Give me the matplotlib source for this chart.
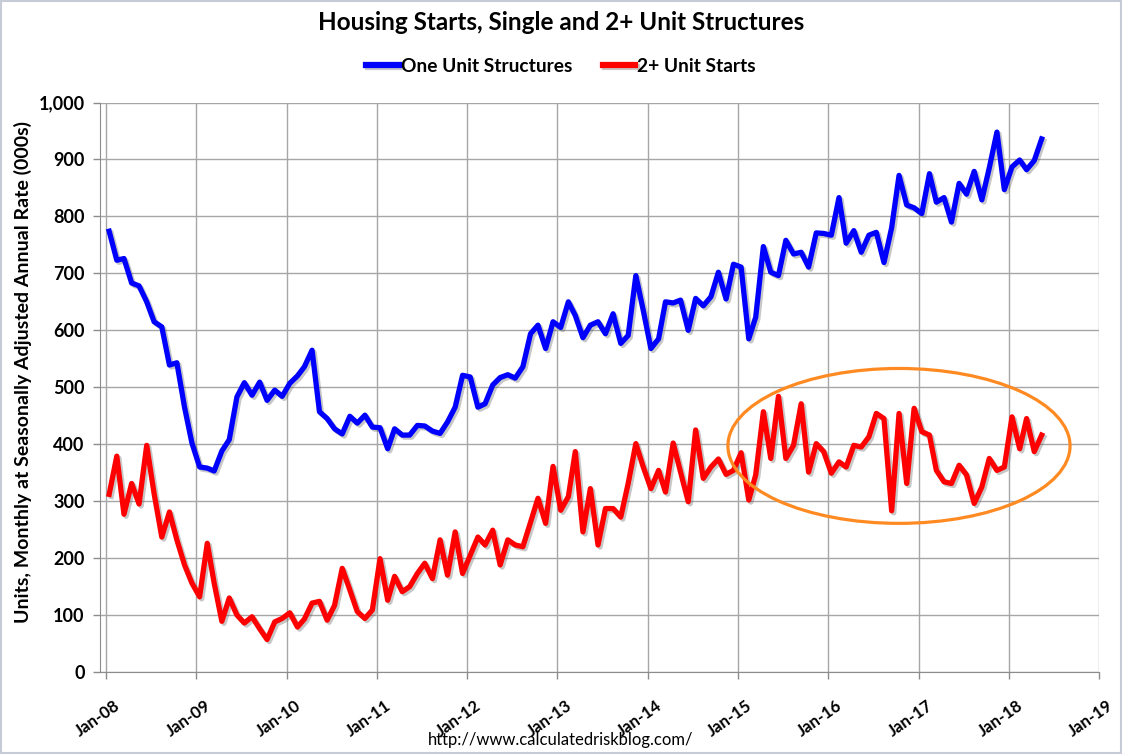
import numpy as np
import matplotlib
matplotlib.use("Agg")
import matplotlib.pyplot as plt
import matplotlib.dates as mdates
import matplotlib.patheffects as pe
import matplotlib.transforms as mtransforms
from matplotlib.patches import Ellipse, Rectangle
from matplotlib.ticker import FuncFormatter, MultipleLocator

plt.rcParams['font.family'] = ['Lato', 'DejaVu Sans']

title = "Housing Starts, Single and 2+ Unit Structures"
ylabel = "Units, Monthly at Seasonally Adjusted Annual Rate (000s)"
source = "http://www.calculatedriskblog.com/"
series_names = ["One Unit Structures", "2+ Unit Starts"]

start_month = "2008-01"
one_unit = [774, 723, 726, 683, 678, 650, 615, 606, 539, 543, 465, 402,
            360, 358, 353, 388, 408, 483, 508, 486, 509, 477, 495, 484,
            507, 520, 536, 565, 457, 445, 427, 418, 449, 437, 451, 430,
            429, 392, 427, 416, 416, 433, 432, 423, 419, 439, 465, 521,
            518, 465, 471, 504, 517, 522, 516, 536, 594, 609, 568, 615,
            605, 650, 626, 587, 609, 615, 594, 629, 577, 591, 696, 635,
            568, 585, 650, 648, 653, 600, 656, 643, 659, 702, 655, 716,
            711, 585, 623, 747, 702, 696, 758, 734, 737, 711, 771, 770,
            767, 833, 753, 775, 737, 767, 772, 719, 780, 872, 820, 815,
            805, 875, 825, 833, 790, 858, 839, 879, 829, 885, 948, 847,
            887, 899, 882, 898, 936]
two_plus = [312, 379, 277, 331, 295, 398, 313, 237, 281, 232, 188, 156,
            132, 226, 156, 89, 130, 100, 86, 97, 76, 57, 88, 94,
            104, 79, 93, 121, 124, 91, 117, 182, 144, 106, 94, 109,
            199, 126, 168, 141, 150, 173, 191, 164, 232, 170, 246, 173,
            205, 237, 223, 249, 188, 232, 223, 220, 263, 305, 261, 361,
            284, 308, 387, 246, 322, 223, 287, 287, 272, 331, 401, 360,
            322, 354, 316, 402, 351, 299, 425, 340, 360, 374, 347, 354,
            385, 302, 346, 457, 375, 484, 375, 398, 471, 351, 401, 387,
            349, 369, 360, 398, 395, 413, 454, 445, 283, 454, 331, 463,
            422, 416, 354, 334, 331, 363, 346, 296, 325, 375, 354, 360,
            448, 392, 445, 387, 416]

dates = (np.arange(np.datetime64(start_month, 'M'),
                   np.datetime64(start_month, 'M') + len(one_unit))
         .astype('datetime64[D]') + np.timedelta64(13, 'D'))

fig = plt.figure(figsize=(11.22, 7.54), dpi=100)
ax = fig.add_axes([100 / 1122, 1 - 672 / 754, 999 / 1122, 569.5 / 754])

shadow = [pe.SimpleLineShadow(offset=(1.5, -1.5), shadow_color='#606060', alpha=0.35),
          pe.Normal()]
ax.plot(dates, one_unit, color='#0000FF', lw=3.8, solid_joinstyle='round',
        label=series_names[0], path_effects=shadow, zorder=3)
ax.plot(dates, two_plus, color='#FF0000', lw=3.8, solid_joinstyle='round',
        label=series_names[1], path_effects=shadow, zorder=3)

# highlight ellipse
x0 = mdates.date2num(np.datetime64('2008-01-01'))
left = x0 + 6.89 * 365.25
right = x0 + 10.68 * 365.25
ell = Ellipse(((left + right) / 2, 397), right - left, 272, fill=False,
              edgecolor='#FF8A22', lw=2.3, zorder=4)
ax.add_patch(ell)

ax.set_xlim(np.datetime64('2007-12-08'), np.datetime64('2019-01-01'))
ax.set_ylim(0, 1000)
ax.xaxis.set_major_locator(mdates.YearLocator())
ax.xaxis.set_major_formatter(mdates.DateFormatter('Jan-%y'))
ax.yaxis.set_major_locator(MultipleLocator(100))
ax.yaxis.set_major_formatter(FuncFormatter(lambda v, p: f"{int(v):,}"))

ax.grid(True, color='#a6a6a6', lw=1.0, zorder=0)
ax.set_axisbelow(True)
for s in ['top', 'right']:
    ax.spines[s].set_visible(False)
ax.spines['left'].set_color('#8c8c8c')
ax.spines['bottom'].set_color('#8c8c8c')
ax.tick_params(axis='both', direction='out', length=5, color='#8c8c8c', width=1)
ax.tick_params(axis='y', labelsize=13, pad=6)
ax.tick_params(axis='x', labelsize=12, pad=4)
offset = mtransforms.ScaledTranslation(8 / 100, -13 / 100, fig.dpi_scale_trans)
for lab in ax.get_xticklabels():
    lab.set_rotation(35)
    lab.set_ha('right')
    lab.set_va('top')
    lab.set_rotation_mode('anchor')
    lab.set_fontweight('bold')
    lab.set_transform(lab.get_transform() + offset)
for lab in ax.get_yticklabels():
    lab.set_fontweight('bold')

ax.set_ylabel(ylabel, fontsize=14, fontweight='bold')
ax.yaxis.set_label_coords(-0.068, 0.527)

fig.text(0.5, 0.970, title, ha='center', va='center', fontsize=17.5, fontweight='bold')
leg = fig.legend(loc='center', bbox_to_anchor=(0.5, 0.912), ncol=2, frameon=False,
                 prop={'size': 13.8, 'weight': 'bold'}, handlelength=1.7,
                 handletextpad=0.1, columnspacing=1.6)
for h in leg.get_lines():
    h.set_linewidth(4.5)
fig.text(0.5, 0.019, source, ha='center', va='center', fontsize=12)

fig.add_artist(Rectangle((0.001, 0.001), 0.998, 0.998, transform=fig.transFigure,
                         fill=False, edgecolor='#c5ccd8', lw=1.5))

fig.savefig('out.png', dpi=100)
